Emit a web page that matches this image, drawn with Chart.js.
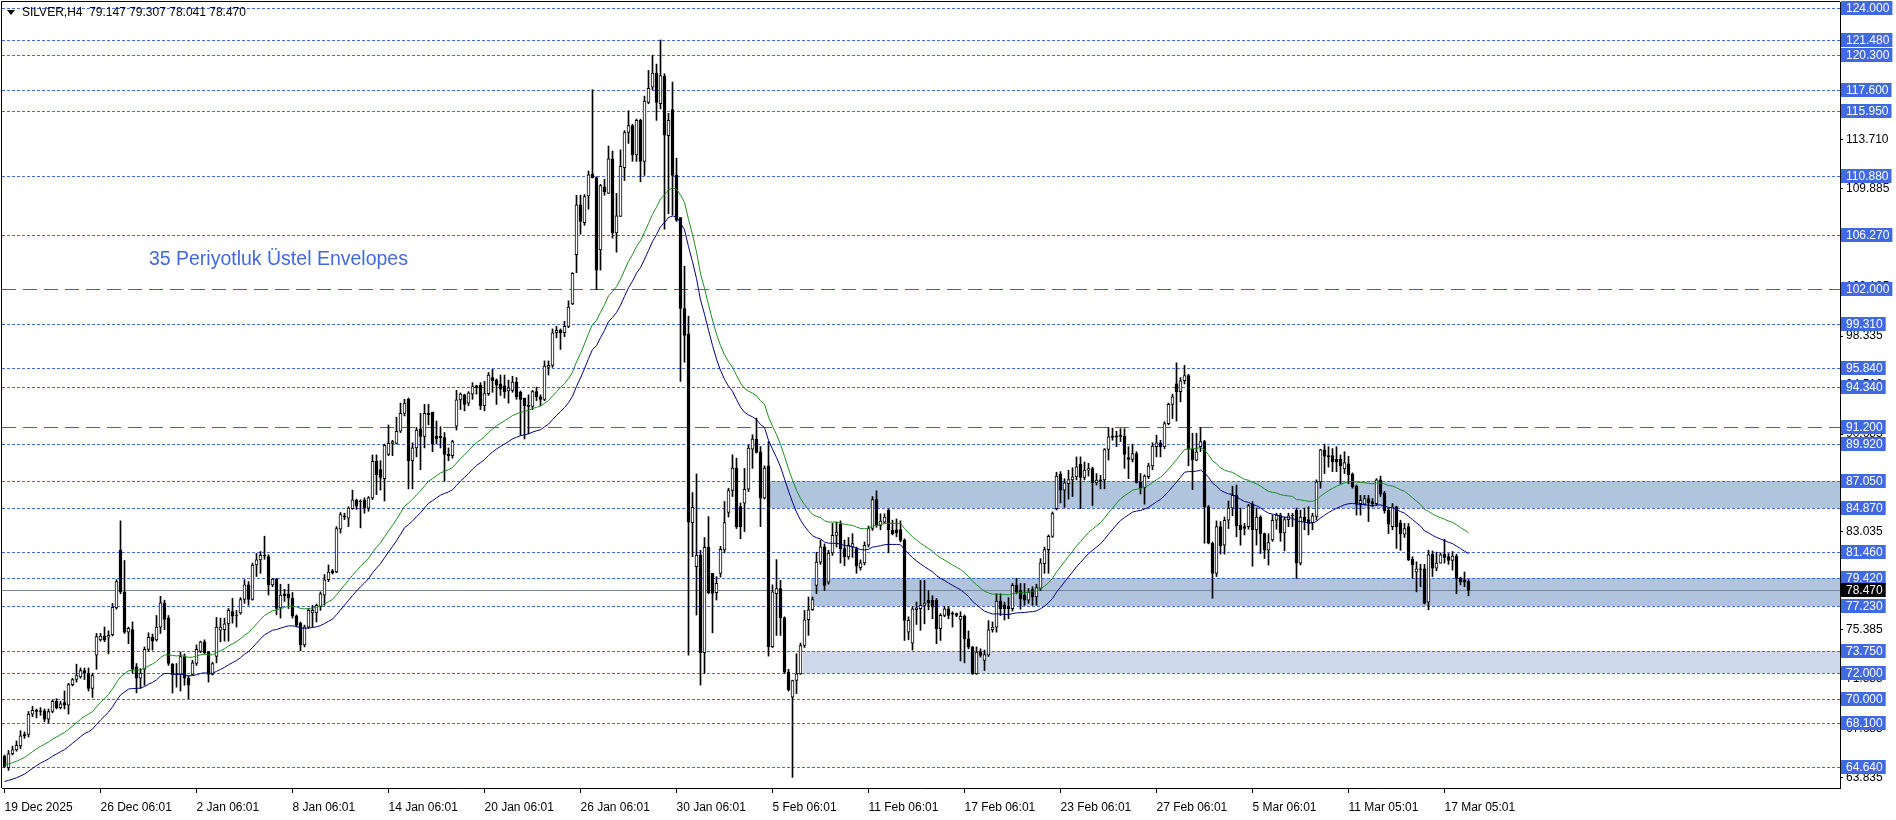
<!DOCTYPE html>
<html>
<head>
<meta charset="utf-8">
<title>SILVER,H4</title>
<script src="https://cdn.jsdelivr.net/npm/chart.js@4.4.1/dist/chart.umd.min.js"></script>
<style>
  html, body { margin: 0; padding: 0; background: #fff; }
  #caja { width: 1896px; height: 820px; }
</style>
</head>
<body>
<div id="caja"><canvas id="grafica" width="1896" height="820"></canvas></div>
<script>
// ===============================
// DATA (H4 bars, 19 Dec 2025 -> 18 Mar 2026)
// ===============================
const symbol = "SILVER,H4";

const opens = [
  65.5, 64.6, 65.7, 66.0, 66.3, 67.1, 67.2, 68.8, 69.1, 69.0,
  69.05, 68.4, 69.0, 69.8, 69.3, 69.7, 69.5, 71.1, 71.5, 71.7,
  72.2, 72.0, 70.8, 73.4, 74.6, 74.9, 74.8, 75.0, 77.1, 81.6,
  78.35, 75.2, 75.4, 72.5, 71.6, 72.3, 73.85, 74.8, 74.6, 75.6,
  77.5, 76.3, 72.7, 71.9, 71.9, 73.3, 71.6, 71.9, 72.75, 73.7,
  74.45, 73.65, 71.9, 73.3, 75.35, 75.4, 75.85, 76.8, 76.5, 76.7,
  77.75, 78.9, 77.75, 80.45, 80.85, 81.15, 81.1, 78.9, 79.35, 77.1,
  78.2, 78.2, 77.85, 76.45, 75.9, 74.2, 75.6, 76.7, 76.7, 77.2,
  78.1, 79.3, 80.0, 79.9, 83.25, 84.3, 84.1, 84.85, 85.5, 85.45,
  85.5, 84.9, 85.7, 88.55, 87.9, 87.2, 89.1, 89.95, 89.95, 90.9,
  92.3, 93.4, 88.6, 89.6, 91.1, 90.5, 92.2, 92.4, 90.5, 90.4,
  90.4, 89.0, 89.0, 91.3, 93.35, 93.75, 93.1, 93.8, 94.45, 94.5,
  92.9, 93.85, 95.1, 94.9, 94.6, 94.45, 94.05, 94.1, 94.75, 93.95,
  93.5, 92.85, 92.85, 94.0, 93.6, 93.4, 95.9, 96.05, 98.6, 98.8,
  98.6, 99.1, 100.85, 104.7, 108.6, 107.2, 109.3, 110.99, 110.73, 105.07,
  110.0, 109.5, 112.2, 106.4, 107.7, 111.5, 114.25, 114.8, 112.5, 115.2,
  112.0, 116.6, 117.8, 118.9, 116.5, 118.65, 114.0, 116.05, 110.9, 107.6,
  100.5, 98.5, 83.76, 80.32, 81.23, 73.59, 81.83, 79.8, 78.29, 79.8,
  81.63, 84.55, 86.27, 88.02, 85.02, 85.28, 86.37, 89.5, 90.3, 89.3,
  85.67, 88.2, 74.06, 78.2, 78.6, 76.33, 72.1, 70.12, 71.42, 71.94,
  74.16, 76.17, 76.95, 78.86, 80.68, 81.86, 79.1, 81.39, 82.77, 83.63,
  81.73, 81.08, 81.85, 81.73, 80.25, 80.61, 81.99, 83.3, 85.56, 83.55,
  83.8, 84.73, 83.15, 83.2, 83.22, 82.38, 75.2, 74.34, 76.95, 77.03,
  77.29, 77.68, 77.68, 77.68, 75.47, 76.51, 77.03, 76.7, 76.65, 76.2,
  76.43, 74.68, 74.03, 71.94, 73.64, 72.99, 73.4, 75.39, 75.6, 77.63,
  77.3, 77.21, 77.03, 78.86, 78.45, 78.08, 77.7, 78.52, 77.95, 78.62,
  80.55, 81.65, 82.69, 84.86, 87.55, 86.29, 86.8, 87.1, 87.34, 88.33,
  87.29, 87.86, 87.99, 86.87, 87.0, 87.1, 89.48, 90.42, 90.45, 90.5,
  90.5, 88.85, 88.7, 89.15, 86.95, 86.5, 87.35, 88.2, 89.7, 90.0,
  89.7, 91.5, 93.0, 94.6, 94.0, 94.85, 95.25, 89.5, 88.65, 89.7,
  90.1, 85.0, 82.15, 79.8, 83.45, 82.0, 83.95, 84.9, 85.9, 83.55,
  83.45, 83.45, 85.2, 83.2, 84.2, 82.9, 81.6, 82.4, 83.95, 84.35,
  82.95, 84.0, 84.3, 84.75, 80.6, 84.2, 84.0, 83.75, 84.25, 86.95,
  89.45, 88.9, 89.0, 88.7, 88.7, 87.95, 88.35, 87.55, 86.6, 85.25,
  85.2, 85.65, 85.4, 85.25, 87.1, 86.05, 84.75, 83.45, 85.0, 83.75,
  82.85, 83.45, 80.9, 79.9, 80.15, 80.15, 77.55, 81.3, 80.2, 80.6,
  81.3, 81.1, 80.8, 81.15, 79.4, 79.3, 79.147
];

const highs = [
  65.6, 65.95, 66.3, 66.7, 67.5, 67.4, 69.0, 69.4, 69.2, 69.3,
  69.2, 69.2, 69.9, 70.0, 69.8, 70.6, 71.2, 71.6, 72.7, 72.4,
  72.4, 72.4, 72.0, 75.1, 75.1, 75.6, 75.3, 77.45, 79.3, 83.9,
  80.8, 75.6, 76.0, 72.75, 72.35, 74.05, 75.15, 75.05, 76.5, 78.0,
  77.7, 76.5, 72.75, 72.75, 73.65, 73.5, 71.8, 73.0, 74.2, 74.5,
  74.6, 73.7, 72.85, 76.35, 76.3, 76.3, 77.05, 77.85, 76.9, 77.9,
  79.3, 79.15, 80.6, 81.35, 81.5, 82.7, 81.25, 79.4, 79.4, 78.95,
  78.55, 78.95, 78.3, 76.55, 76.0, 75.75, 77.05, 77.3, 77.4, 78.35,
  79.7, 80.45, 80.1, 83.45, 84.55, 84.5, 85.0, 86.3, 85.6, 85.55,
  85.7, 85.8, 89.05, 89.05, 88.6, 89.9, 91.4, 90.2, 92.0, 93.1,
  93.4, 93.5, 90.0, 91.2, 92.3, 93.0, 93.0, 92.4, 91.7, 91.25,
  90.8, 89.6, 90.2, 94.1, 93.9, 93.8, 94.0, 94.7, 94.5, 94.7,
  94.8, 95.5, 95.75, 95.0, 95.3, 95.3, 94.9, 95.2, 95.1, 94.05,
  93.5, 93.75, 94.1, 94.35, 93.75, 96.4, 96.4, 98.9, 99.1, 98.9,
  99.5, 101.1, 103.3, 109.35, 109.35, 109.4, 111.25, 117.6, 110.8, 110.2,
  110.6, 113.2, 112.8, 109.5, 112.9, 114.4, 115.95, 114.9, 115.3, 115.3,
  117.1, 119.1, 120.3, 119.6, 121.48, 118.85, 115.75, 118.2, 112.25, 107.6,
  103.8, 99.9, 86.11, 87.57, 81.6, 82.6, 84.23, 79.8, 79.54, 81.9,
  85.41, 86.45, 89.06, 88.8, 85.3, 88.0, 89.84, 90.63, 91.93, 89.71,
  88.2, 90.1, 78.9, 80.87, 79.25, 76.4, 72.3, 71.45, 73.51, 74.35,
  76.9, 77.95, 77.95, 81.45, 82.4, 82.1, 81.6, 83.7, 83.8, 83.9,
  82.4, 82.6, 82.9, 81.85, 80.85, 82.25, 83.5, 85.8, 86.25, 84.45,
  84.45, 84.85, 83.95, 84.05, 83.9, 82.5, 76.4, 77.2, 77.55, 79.25,
  79.25, 78.45, 78.05, 77.85, 76.65, 77.2, 77.2, 76.8, 76.7, 76.8,
  76.55, 75.3, 74.1, 74.05, 73.9, 73.8, 76.1, 76.0, 78.2, 78.2,
  77.55, 77.9, 79.0, 79.4, 79.0, 79.0, 78.6, 78.75, 78.95, 80.95,
  81.85, 82.8, 84.6, 87.7, 87.75, 87.2, 87.85, 88.05, 88.9, 88.9,
  88.5, 88.4, 88.1, 87.6, 87.45, 89.55, 91.2, 91.15, 90.9, 91.1,
  91.1, 89.7, 89.9, 89.3, 87.6, 87.5, 88.4, 90.0, 90.6, 90.2,
  91.65, 93.1, 93.8, 96.25, 95.1, 96.05, 95.35, 90.75, 90.75, 91.2,
  90.2, 85.1, 82.25, 83.9, 83.85, 84.2, 85.45, 86.6, 86.7, 84.9,
  83.7, 85.2, 85.4, 84.9, 84.3, 82.95, 82.9, 84.35, 84.5, 84.5,
  84.2, 84.5, 84.5, 84.9, 84.75, 84.9, 85.0, 84.5, 87.1, 89.5,
  89.9, 89.7, 89.55, 89.7, 89.05, 89.3, 88.95, 87.65, 86.7, 85.9,
  85.9, 85.9, 85.65, 87.2, 87.4, 86.2, 84.9, 85.25, 85.05, 83.95,
  83.7, 83.7, 81.1, 80.7, 80.5, 80.5, 81.6, 81.55, 81.45, 81.4,
  82.45, 81.35, 81.5, 81.3, 79.5, 79.9, 79.307
];

const lows = [
  64.6, 64.4, 65.6, 65.9, 66.1, 66.9, 67.0, 68.6, 68.5, 68.7,
  68.2, 68.1, 68.9, 69.2, 69.2, 69.2, 68.8, 71.0, 71.3, 71.6,
  71.5, 70.6, 70.1, 72.3, 74.5, 74.45, 73.5, 74.9, 77.0, 78.2,
  75.1, 74.3, 72.0, 70.45, 70.8, 71.05, 73.7, 73.8, 74.5, 75.1,
  75.4, 72.6, 70.45, 70.9, 70.6, 71.05, 70.0, 71.85, 72.6, 73.6,
  73.5, 71.3, 71.85, 72.8, 74.45, 74.5, 74.5, 75.9, 75.6, 76.6,
  77.45, 77.3, 77.7, 79.55, 79.8, 80.9, 78.1, 78.75, 76.55, 76.3,
  77.6, 77.05, 76.3, 75.6, 73.75, 74.05, 75.5, 75.6, 76.0, 76.9,
  77.3, 79.15, 79.75, 79.85, 82.95, 84.0, 83.45, 84.8, 84.8, 83.35,
  84.5, 84.65, 85.55, 85.95, 86.3, 85.45, 89.0, 89.0, 89.9, 90.8,
  92.1, 86.4, 86.4, 88.9, 87.9, 89.6, 91.4, 89.3, 89.9, 89.6,
  87.0, 88.6, 88.8, 91.0, 92.6, 92.5, 92.9, 93.4, 93.8, 92.6,
  92.5, 93.7, 93.95, 93.0, 93.7, 93.5, 93.1, 93.95, 93.4, 90.6,
  90.3, 90.7, 92.6, 93.3, 92.9, 93.3, 95.3, 95.9, 98.2, 97.3,
  98.3, 99.0, 100.8, 103.3, 106.3, 107.0, 108.26, 110.7, 101.96, 103.5,
  109.35, 109.5, 106.0, 104.9, 107.7, 110.5, 113.4, 112.0, 112.0, 110.4,
  110.9, 116.5, 117.6, 115.2, 116.1, 106.7, 107.9, 107.8, 107.3, 94.8,
  96.3, 73.4, 81.1, 76.54, 71.06, 71.97, 78.2, 75.15, 77.71, 79.5,
  81.4, 84.2, 85.8, 83.3, 82.5, 83.06, 86.19, 88.0, 89.2, 83.45,
  85.6, 73.33, 74.0, 74.94, 74.95, 71.95, 70.6, 63.85, 70.4, 71.9,
  74.0, 74.95, 76.9, 78.2, 80.5, 78.45, 78.95, 81.2, 81.85, 80.6,
  80.4, 80.9, 81.05, 79.8, 80.05, 80.45, 81.85, 83.15, 83.4, 83.2,
  83.7, 81.4, 82.8, 82.65, 82.25, 74.55, 74.6, 73.8, 75.8, 75.35,
  75.85, 76.95, 76.25, 74.3, 74.55, 76.4, 76.25, 75.6, 76.4, 72.95,
  72.8, 73.9, 71.9, 71.9, 73.25, 72.2, 73.3, 75.2, 75.2, 76.5,
  76.15, 76.25, 76.85, 78.2, 77.0, 77.3, 77.45, 77.3, 77.3, 78.45,
  79.8, 79.8, 82.6, 84.75, 85.3, 84.95, 85.6, 85.8, 87.1, 84.85,
  87.1, 87.4, 85.1, 86.7, 86.4, 86.4, 88.65, 90.2, 89.7, 90.1,
  88.0, 87.2, 88.5, 86.85, 86.0, 85.2, 87.2, 87.9, 88.9, 88.9,
  89.55, 91.4, 91.9, 91.7, 93.2, 94.6, 88.2, 86.35, 88.6, 89.3,
  82.15, 82.1, 77.85, 79.55, 81.3, 81.3, 83.3, 84.3, 82.65, 82.0,
  82.8, 83.25, 80.35, 82.0, 81.35, 80.95, 80.45, 82.3, 83.25, 82.3,
  81.55, 83.45, 83.45, 79.4, 80.45, 83.2, 82.8, 83.2, 83.95, 86.45,
  87.6, 88.1, 87.75, 87.75, 86.8, 87.6, 86.8, 86.45, 84.35, 84.35,
  85.15, 83.85, 85.0, 85.1, 85.8, 84.5, 82.9, 83.2, 81.75, 81.6,
  82.6, 80.8, 79.4, 78.35, 78.75, 77.4, 76.95, 79.55, 80.0, 80.6,
  80.6, 80.5, 80.05, 78.2, 78.9, 78.75, 78.041
];

const closes = [
  64.7, 65.7, 66.0, 66.35, 67.1, 67.2, 68.8, 69.1, 69.0, 69.05,
  68.4, 69.0, 69.8, 69.3, 69.6, 69.5, 71.1, 71.5, 71.8, 72.2,
  72.0, 70.8, 71.8, 74.85, 74.9, 74.6, 74.95, 77.15, 79.15, 78.35,
  75.2, 75.5, 72.3, 71.6, 72.0, 73.85, 74.8, 74.5, 75.6, 77.5,
  76.2, 72.75, 71.9, 71.95, 73.3, 71.6, 71.05, 72.8, 73.85, 74.45,
  73.6, 71.9, 72.75, 75.6, 75.6, 75.85, 76.9, 76.45, 76.55, 77.75,
  78.9, 77.75, 80.45, 80.85, 81.2, 81.2, 78.9, 79.35, 77.05, 78.1,
  78.05, 77.85, 76.45, 75.75, 74.2, 75.6, 76.9, 76.9, 77.3, 78.2,
  79.3, 79.9, 79.85, 83.3, 84.4, 84.2, 84.9, 85.55, 85.05, 85.4,
  84.9, 85.7, 88.55, 87.5, 87.3, 89.8, 89.95, 90.1, 90.9, 92.3,
  93.1, 88.6, 89.6, 91.0, 90.5, 92.3, 92.3, 89.9, 90.3, 90.5,
  89.1, 89.1, 90.1, 93.35, 93.8, 93.0, 93.9, 94.4, 94.3, 92.9,
  93.85, 95.3, 94.85, 94.5, 94.2, 94.0, 94.3, 94.75, 93.6, 93.4,
  92.9, 92.95, 94.0, 93.6, 93.4, 96.0, 96.05, 98.6, 98.8, 98.6,
  99.1, 100.6, 103.25, 108.6, 107.3, 109.25, 110.94, 110.73, 103.5, 110.1,
  109.6, 112.2, 106.4, 107.75, 111.6, 114.25, 114.8, 112.5, 115.2, 112.0,
  116.7, 117.7, 118.9, 116.6, 118.7, 114.05, 115.2, 110.9, 107.4, 100.5,
  98.4, 83.8, 84.96, 81.23, 73.59, 81.83, 78.29, 78.23, 79.02, 81.68,
  83.76, 86.27, 88.02, 83.45, 83.45, 86.37, 89.58, 90.3, 89.24, 85.67,
  88.02, 74.06, 78.36, 78.6, 76.33, 72.07, 70.69, 71.42, 71.94, 74.16,
  76.17, 76.95, 77.74, 80.68, 81.86, 78.86, 81.39, 82.77, 83.03, 81.73,
  81.08, 81.99, 82.12, 80.35, 80.61, 81.99, 83.3, 85.56, 83.55, 83.89,
  84.2, 83.22, 82.9, 82.95, 82.38, 76.12, 76.12, 77.03, 77.11, 77.29,
  77.48, 77.48, 77.15, 75.47, 76.51, 77.03, 76.51, 76.6, 76.5, 76.43,
  74.68, 74.03, 71.94, 73.64, 73.38, 73.45, 75.39, 75.6, 77.63, 77.03,
  77.03, 77.03, 78.86, 78.34, 77.81, 77.7, 78.34, 77.95, 78.68, 80.61,
  81.65, 82.69, 84.47, 87.39, 86.29, 86.87, 87.13, 87.34, 88.12, 87.29,
  87.86, 87.99, 86.87, 87.08, 87.1, 89.48, 90.47, 90.52, 90.55, 90.6,
  89.1, 88.7, 89.15, 86.9, 86.5, 87.4, 88.2, 89.75, 90.0, 89.7,
  91.5, 93.0, 93.6, 94.0, 94.85, 95.25, 89.5, 88.65, 89.3, 90.1,
  85.0, 82.15, 79.8, 83.45, 81.95, 83.95, 84.9, 85.9, 83.5, 83.2,
  83.3, 85.1, 83.2, 84.2, 82.9, 81.6, 82.2, 83.95, 84.35, 82.95,
  84.0, 84.3, 84.35, 80.6, 84.2, 83.85, 83.7, 84.3, 86.95, 89.45,
  88.95, 89.0, 88.5, 88.5, 88.2, 88.45, 87.5, 86.55, 85.25, 85.5,
  85.65, 85.3, 85.25, 87.1, 86.0, 84.7, 83.65, 85.0, 83.45, 82.9,
  83.3, 80.85, 80.45, 80.15, 80.1, 77.45, 81.25, 80.2, 80.6, 81.25,
  81.05, 80.8, 81.15, 79.4, 79.15, 79.1, 78.47
];

// time labels, one every 24 bars
const timeLabels = [
  "19 Dec 2025", "26 Dec 06:01", "2 Jan 06:01", "8 Jan 06:01", "14 Jan 06:01",
  "20 Jan 06:01", "26 Jan 06:01", "30 Jan 06:01", "5 Feb 06:01", "11 Feb 06:01",
  "17 Feb 06:01", "23 Feb 06:01", "27 Feb 06:01", "5 Mar 06:01", "11 Mar 05:01",
  "17 Mar 05:01"
];
const barsPerLabel = 24;

// price scale ticks printed by the terminal
const priceTicks = [
  63.835, 67.685, 71.535, 75.385, 79.210, 83.035, 86.860, 90.685,
  94.510, 98.335, 102.185, 106.035, 109.885, 113.710, 117.535, 121.360
];

// horizontal levels
const dottedLevels = [
  124.000, 121.480, 120.300, 117.600, 115.950, 110.880, 106.270, 99.310,
  95.840, 94.340, 89.920, 87.050, 84.870, 81.460, 79.420, 77.230,
  73.750, 72.000, 70.000, 68.100, 64.640
];
const dashedLevels = [102.000, 91.200];

// zones: [low, high, first bar]
const zones = [
  [84.870, 87.050, 190.9],
  [77.230, 79.420, 201.6],
  [72.000, 73.750, 199.6]
];

// envelopes indicator
const emaPeriod = 35;
const envDeviation = 1.0;   // percent
const emaStart = 64.17;     // EMA value on the first visible bar
const envText = "35 Periyotluk Üstel Envelopes";
const envTextAt = [36.1, 104.35]; // bar, price

// ===============================
// DERIVED SERIES
// ===============================
const alpha = 2 / (emaPeriod + 1);
const ema = [];
closes.forEach((c, i) => ema.push(i === 0 ? emaStart : ema[i - 1] + alpha * (c - ema[i - 1])));
const upperEnv = ema.map((v, i) => ({ x: i, y: v * (1 + envDeviation / 100) }));
const lowerEnv = ema.map((v, i) => ({ x: i, y: v * (1 - envDeviation / 100) }));

const bodies = opens.map((o, i) => ({ x: i, y: [o, closes[i]] }));
const wicks = lows.map((l, i) => ({ x: i, y: [l, highs[i]] }));
const bodyFill = opens.map((o, i) =>
  Math.abs(closes[i] - o) < 0.12 ? "#000" : (closes[i] > o ? "#fff" : "#000"));

const last = opens.length - 1;
const lastPrice = closes[last];

// ===============================
// COLORS / FONTS
// ===============================
const levelBlue = "#4169e1";
const zoneColors = ["#b0c4de", "#b0c4de", "#cdd9ea"];
const uiFont = '"Liberation Sans", Arial, sans-serif';

// ===============================
// OVERLAY PLUGIN (levels, zones, labels)
// ===============================
const overlay = {
  id: "overlay",
  beforeDatasetsDraw(chart) {
    const { ctx, chartArea: a, scales: { x, y } } = chart;
    ctx.save();
    ctx.beginPath();
    ctx.rect(a.left, a.top, a.right - a.left, a.bottom - a.top);
    ctx.clip();

    zones.forEach(([lo, hi, from], k) => {
      const y1 = Math.round(y.getPixelForValue(hi));
      const y2 = Math.round(y.getPixelForValue(lo));
      const x1 = Math.round(x.getPixelForValue(from));
      ctx.fillStyle = zoneColors[k];
      ctx.fillRect(x1, y1, a.right - x1, y2 - y1);
    });

    ctx.lineWidth = 1;
    ctx.strokeStyle = levelBlue;
    ctx.setLineDash([3, 2]);
    dottedLevels.forEach(v => {
      const py = Math.round(y.getPixelForValue(v)) + 0.5;
      ctx.beginPath(); ctx.moveTo(a.left, py); ctx.lineTo(a.right, py); ctx.stroke();
    });
    ctx.strokeStyle = "#3d5fd6";
    ctx.setLineDash([14, 7]);
    dashedLevels.forEach(v => {
      const py = Math.round(y.getPixelForValue(v)) + 0.5;
      ctx.beginPath(); ctx.moveTo(a.left, py); ctx.lineTo(a.right, py); ctx.stroke();
    });
    ctx.setLineDash([]);
    ctx.strokeStyle = "#778899";
    const pp = Math.round(y.getPixelForValue(lastPrice)) + 0.5;
    ctx.beginPath(); ctx.moveTo(a.left, pp); ctx.lineTo(a.right, pp); ctx.stroke();

    ctx.fillStyle = levelBlue;
    ctx.font = '19.5px "Liberation Sans", Arial, sans-serif';
    ctx.textBaseline = "middle";
    ctx.textAlign = "left";
    ctx.fillText(envText, x.getPixelForValue(envTextAt[0]), y.getPixelForValue(envTextAt[1]));
    ctx.restore();
  },
  afterDraw(chart) {
    const { ctx, chartArea: a, scales: { y } } = chart;
    ctx.save();
    ctx.font = "12px " + uiFont;
    ctx.textBaseline = "middle";
    ctx.textAlign = "left";

    const tag = (v, bg) => {
      const yc = Math.round(y.getPixelForValue(v));
      const txt = v.toFixed(3);
      const w = ctx.measureText(txt).width;
      ctx.fillStyle = bg;
      ctx.fillRect(a.right + 1, yc - 7, w + 8, 14);
      ctx.fillStyle = "#fff";
      ctx.fillText(txt, a.right + 6, yc + 0.5);
    };
    dottedLevels.concat(dashedLevels).forEach(v => tag(v, levelBlue));
    tag(lastPrice, "#000");

    // frame
    ctx.strokeStyle = "#000";
    ctx.lineWidth = 1;
    ctx.beginPath();
    ctx.moveTo(a.left - 0.5, a.bottom);
    ctx.lineTo(a.left - 0.5, a.top - 0.5);
    ctx.lineTo(a.right, a.top - 0.5);
    ctx.stroke();

    // header
    ctx.fillStyle = "#000";
    ctx.beginPath();
    ctx.moveTo(7, 10); ctx.lineTo(15, 10); ctx.lineTo(11, 15); ctx.closePath();
    ctx.fill();
    const head = symbol + "  " + [opens[last], highs[last], lows[last], closes[last]]
      .map(v => v.toFixed(3)).join(" ");
    ctx.fillText(head, 22, 13);
    ctx.restore();
  }
};

// ===============================
// CHART
// ===============================
Chart.defaults.font.family = uiFont;
Chart.defaults.font.size = 12;
Chart.defaults.color = "#000";

new Chart(document.getElementById("grafica"), {
  type: "bar",
  data: {
    datasets: [
      { type: "line", data: upperEnv, borderColor: "#1e8c1e", borderWidth: 1, pointRadius: 0, tension: 0 },
      { type: "line", data: lowerEnv, borderColor: "#000080", borderWidth: 1, pointRadius: 0, tension: 0 },
      {
        data: bodies,
        backgroundColor: bodyFill,
        borderColor: "#000",
        borderWidth: 1,
        borderSkipped: false,
        barThickness: 3,
        grouped: false
      },
      { data: wicks, backgroundColor: "#000", borderWidth: 0, barThickness: 1, grouped: false }
    ]
  },
  options: {
    responsive: false,
    animation: false,
    events: [],
    layout: { padding: { left: 2, top: 2, right: 0, bottom: 0 } },
    plugins: { legend: { display: false }, tooltip: { enabled: false } },
    scales: {
      x: {
        type: "linear",
        min: -0.625,
        max: 458.875,
        offset: false,
        afterBuildTicks: s => { s.ticks = timeLabels.map((_, k) => ({ value: k * barsPerLabel })); },
        afterFit: s => { s.height = 32; s.paddingLeft = 0; s.paddingRight = 0; },
        ticks: {
          autoSkip: false, maxRotation: 0, minRotation: 0, align: "start", padding: 7,
          callback: (v, k) => timeLabels[k]
        },
        grid: { drawOnChartArea: false, offset: false, tickLength: 5, color: "#000" },
        border: { color: "#000" }
      },
      y: {
        position: "right",
        min: 63.02,
        max: 124.453,
        afterBuildTicks: s => { s.ticks = priceTicks.map(v => ({ value: v })); },
        afterFit: s => { s.width = 56; s.paddingTop = 0; s.paddingBottom = 0; },
        ticks: { autoSkip: false, padding: 3, callback: v => v.toFixed(3) },
        grid: { drawOnChartArea: false, tickLength: 3, color: "#000" },
        border: { color: "#000" }
      }
    }
  },
  plugins: [overlay]
});
</script>
</body>
</html>
